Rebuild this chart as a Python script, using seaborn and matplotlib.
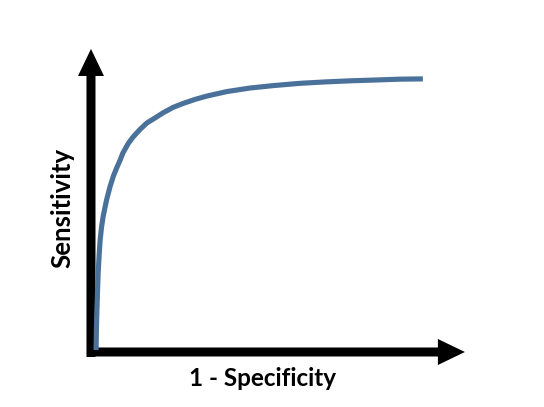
import matplotlib
matplotlib.use("Agg")
import matplotlib.pyplot as plt
from matplotlib.patches import FancyArrow
import seaborn as sns
import pandas as pd

# ROC-like curve values (1 - specificity, sensitivity)
fpr = [0.015, 0.016, 0.017, 0.019, 0.021, 0.024, 0.027, 0.031, 0.036, 0.041,
       0.046, 0.056, 0.066, 0.077, 0.086, 0.094, 0.110, 0.124, 0.145, 0.165,
       0.189, 0.212, 0.242, 0.271, 0.307, 0.342, 0.400, 0.469, 0.540, 0.617,
       0.690, 0.764, 0.840, 0.912, 0.979]
tpr = [0.007, 0.080, 0.130, 0.210, 0.280, 0.350, 0.404, 0.450, 0.490, 0.520,
       0.549, 0.596, 0.635, 0.668, 0.693, 0.718, 0.753, 0.776, 0.804, 0.827,
       0.845, 0.863, 0.883, 0.897, 0.912, 0.924, 0.940, 0.953, 0.962, 0.970,
       0.975, 0.979, 0.982, 0.985, 0.986]
x_label = "1 - Specificity"
y_label = "Sensitivity"

sns.set_theme(style="white")
plt.rcParams['font.family'] = ['Lato', 'DejaVu Sans']

df = pd.DataFrame({"fpr": fpr, "tpr": tpr})

fig = plt.figure(figsize=(5.44, 4.07), dpi=100)
ax = fig.add_axes([0, 0, 1, 1])
ax.set_xlim(-0.2684, 1.3363)
ax.set_ylim(-0.1986, 1.2708)
ax.axis("off")

sns.lineplot(data=df, x="fpr", y="tpr", ax=ax, color="#4a719a", lw=3.7,
             sort=False, estimator=None, solid_capstyle="butt",
             solid_joinstyle="round")

xs, ys = 339.0, 277.0  # pixels per data unit
# y axis arrow
ax.add_patch(FancyArrow(0, -5 / ys, 0, 1.094 + 5 / ys, width=9 / xs,
                        head_width=26 / xs, head_length=27 / ys,
                        length_includes_head=True, color="black", lw=0, zorder=1))
# x axis arrow
ax.add_patch(FancyArrow(-4 / xs, 0, 1.103 + 4 / xs, 0, width=9 / ys,
                        head_width=26 / ys, head_length=27 / xs,
                        length_includes_head=True, color="black", lw=0, zorder=1))

ax.text(0.507, -0.094, x_label, ha="center", va="center", fontsize=17.5,
        fontweight="bold", color="black")
ax.text(-0.0855, 0.52, y_label, ha="center", va="center", fontsize=18.5,
        fontweight="bold", color="black", rotation=90)

fig.savefig("out.png", dpi=100)
